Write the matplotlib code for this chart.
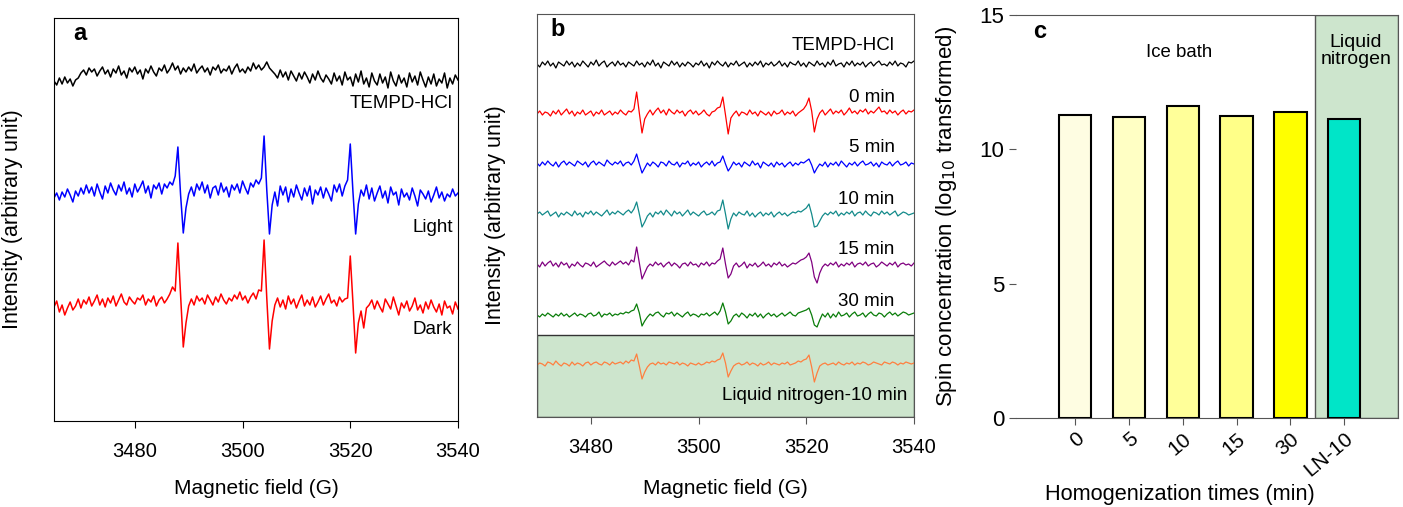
import matplotlib.pyplot as plt
import numpy as np

plt.rcParams['font.family'] = ['Liberation Sans', 'DejaVu Sans']

# ---- panel a: EPR spectra, field 3465-3540 G, 0.5 G steps (values in arb. units)
field_a = np.linspace(3465, 3540, 151)

a_tempd = [-6, -10, -3, -9, -2, -8, -4, -11, -5, -3,
           2, 5, 0, 7, 3, 6, -1, 4, 8, 1,
           5, -2, 6, 2, 9, 0, 4, -3, 7, 3,
           8, 1, 5, -4, 6, 2, 9, 3, -1, 7,
           4, 10, 2, 6, 12, 5, 9, 1, 7, 3,
           8, 4, 11, 2, 6, 9, 3, 7, 0, 8,
           5, 10, 2, 6, 4, 9, 1, 7, 11, 3,
           6, 2, 8, 4, 12, 6, 10, 5, 8, 13,
           7, 4, 1, -3, 5, -2, 3, -5, 4, -1,
           -6, 2, -4, 3, -2, -8, 1, -5, 4, -3,
           -7, 0, -4, -9, 2, -6, -1, -10, 3, -5,
           -2, -11, 1, -7, 4, -9, -3, -12, 2, -6,
           -10, 1, -8, -2, -13, 3, -6, -11, 0, -8,
           -3, -12, 2, -7, -1, -10, 3, -5, -12, -2,
           -9, 1, -11, -4, -8, 2, -13, -3, -9, 0,
           -5]

a_light = [-8, -3, -10, -2, -7, 1, -5, -12, -1, -6,
           2, -4, 5, -3, 3, -6, 6, -2, -9, 4,
           -3, 7, 0, -5, 5, -1, 8, -4, 2, -7,
           6, -2, 3, 9, -3, 4, -8, 5, 1, 7,
           -4, 6, 2, 8, 5, 14, 43, -5, -43, -18,
           -4, 3, -6, 6, 0, 8, -3, 5, -8, 2,
           4, -5, 7, -2, 3, -7, 5, 0, 6, -3,
           9, 2, -4, 7, 3, 10, 6, 12, 54, 0,
           -44, -15, -2, -16, 4, -5, 3, -12, 1, -7,
           5, -3, -10, 2, -6, 4, -14, 0, -5, 3,
           -8, 2, -4, -11, 5, -2, 6, -6, 4, 10,
           46, -2, -44, -14, 0, -6, 5, -9, 2, -11,
           -3, 4, -8, -1, -13, 3, -5, -2, -15, 1,
           -7, -3, -10, 2, -6, -16, 0, -4, -9, -1,
           -12, -5, 3, -8, -2, -11, -4, -7, 1, -6,
           -3]

a_dark = [-4, 2, -9, -2, -12, -5, 1, -7, -3, 4,
          -5, 3, -1, 6, -3, 2, 8, -2, 4, -4,
          5, 0, 7, -3, 3, 9, 1, -2, 6, 2,
          -1, 5, 3, 8, -2, 4, 1, 7, -3, 3,
          6, 0, 4, 9, 16, 12, 60, 8, -44, -20,
          -3, 4, -2, 7, 2, 5, -1, 8, 3, -2,
          6, 1, 9, 3, -1, 5, 2, 8, 4, 11,
          3, 7, 0, 6, 10, 4, 13, 12, 63, 5,
          -46, -18, -2, 5, -4, 3, -6, 7, -1, 4,
          -5, 2, 8, -3, 3, -2, 6, -4, 1, 7,
          -2, 4, 9, 0, 3, -3, 6, 1, 4, 5,
          47, 0, -50, -20, -8, -25, -5, -2, 3, -6,
          2, -4, -9, 4, -1, -6, 6, -3, -12, 0,
          -5, 2, -8, -3, 5, -7, -2, -10, 1, -6,
          3, -4, -9, -1, -12, 2, -5, -3, -11, 1,
          -6]

# ---- panel b: EPR spectra, field 3470-3540 G, 0.5 G steps
field_b = np.linspace(3470, 3540, 141)

b_tempd = [0, -3, 2, -1, 3, -2, 1, -4, 2, 0,
           -2, 3, -1, 2, -3, 1, -2, 3, 0, -3,
           2, -1, 4, -2, 1, 3, -3, 0, 2, -2,
           3, -1, 1, -3, 2, 0, -2, 3, -1, 1,
           -3, 2, -1, 4, -2, 1, -4, 2, 0, -2,
           3, -1, 2, -3, 1, -2, 2, 0, -3, 1,
           -1, 3, -2, 1, -4, 2, -1, 3, 0, -2,
           2, -3, 1, -1, 3, -2, 0, 2, -3, 1,
           -2, 2, -1, 3, -3, 1, -1, 2, -2, 0,
           3, -2, 1, -3, 2, 0, -1, 3, -2, 1,
           -3, 2, 0, -2, 3, -1, 1, -3, 2, -1,
           4, -2, 0, 1, -3, 2, -1, 3, -2, 1,
           -1, 2, -3, 0, 2, -2, 1, 3, -1, 0,
           -2, 2, -1, 3, -2, 1, 0, -3, 2, 1,
           3]

b_0min = [-1, 2, -2, 1, 0, -3, 2, -1, 3, -2,
          1, 4, -1, 2, -3, 1, -1, 3, -2, 0,
          2, -3, 1, -1, 3, -2, 0, 2, -2, 1,
          -1, 3, 0, -2, 2, 1, 4, 21, 0, -20,
          -6, -1, 3, -2, 2, 5, 0, 3, -2, 4,
          1, -1, 3, 0, 2, -3, 1, 3, -1, 2,
          -2, 0, 3, -1, -3, 1, 2, 5, 6, 16,
          -2, -21, -5, -1, 2, -3, 1, 0, -2, 3,
          -1, 1, -3, 2, 0, -2, 1, -3, 2, -1,
          0, 3, -2, 1, -1, 2, -3, 0, 2, 4,
          8, 15, 2, -19, -6, 0, 3, -2, 1, 4,
          -1, 2, 0, 3, -2, 1, 5, 0, 2, -1,
          3, 1, 4, -1, 2, 0, 3, 6, 1, 2,
          -1, 3, 0, 2, -2, 1, 3, -1, 2, 1,
          3]

b_5min = [1, -2, 2, -1, 3, 0, -2, 2, -3, 1,
          3, -1, 2, 0, -2, 3, 1, -1, 2, -3,
          1, 3, -1, 2, 0, -2, 4, 1, -1, 2,
          0, 3, -2, 1, 2, -1, 3, 10, 0, -9,
          -4, 1, -2, 2, 0, -3, 2, 1, -2, 3,
          0, -1, 2, -3, 1, 0, 3, -2, 1, -1,
          2, -3, 0, 2, -1, 3, -2, 1, 2, 8,
          0, -7, -3, 2, -1, 1, -3, 2, 0, -2,
          3, -1, 1, -4, 2, 0, -2, 1, -3, 2,
          -1, 1, -3, 0, 2, -2, 1, -1, 2, 1,
          3, 5, -1, -9, -4, 0, -2, 2, -3, 1,
          -1, 2, -2, 3, 0, -3, 1, -1, 2, -2,
          1, 3, -1, 0, 2, -2, 1, -3, 2, 0,
          -1, 2, -2, 1, 3, -1, 0, 2, -2, 1,
          0]

b_10min = [0, 2, -1, 1, 3, -2, 0, 2, -3, 1,
           -1, 2, 0, -2, 3, -1, 1, -3, 2, 0,
           3, -1, 2, 0, -2, 1, 4, -1, 2, 0,
           3, 1, -1, 2, 4, 1, 5, 12, 0, -13,
           -8, -2, 1, -3, 2, 0, 3, -1, 4, 1,
           -2, 3, 0, 2, -2, 1, 4, -1, 2, 0,
           -2, 1, 3, -1, 0, 2, -1, 3, 4, 14,
           0, -15, -5, 1, -2, 2, 0, -1, 3, -2,
           1, -3, 0, 2, -2, 1, -1, 2, -3, 0,
           2, -1, 1, -2, 0, 2, 1, 3, 2, 4,
           6, 10, 0, -13, -12, -7, -2, 1, -1, 2,
           0, 3, -2, 1, -1, 2, 0, 3, -2, 1,
           2, -1, 3, 0, -2, 2, 1, -1, 3, 0,
           2, -1, 1, 3, -2, 0, 2, 1, -1, 0,
           1]

b_15min = [1, -2, 3, -1, 2, 4, -1, 2, -2, 3,
           0, 2, -3, 1, -1, 3, 0, -2, 2, 1,
           -1, 3, -2, 0, 2, 4, 1, -1, 3, 0,
           2, 4, 1, 3, 0, 5, 3, 18, 2, -14,
           -8, -2, 1, -1, 3, 0, 2, -2, 1, 3,
           -1, 2, 0, -3, 1, 2, -1, 3, 0, 1,
           -2, 2, 0, 3, -1, 2, 1, 4, 6, 17,
           1, -13, -9, -1, 2, -2, 0, 3, -3, 1,
           -1, 2, -2, 0, 3, -1, 1, -2, 2, 0,
           3, -1, 1, -2, 0, 2, 1, 3, 5, 6,
           8, 12, 3, -12, -18, -8, -2, 1, -1, 2,
           0, 3, -2, 1, -1, 2, 0, 3, -2, 1,
           2, 0, 3, -1, 1, 2, -2, 0, 3, 1,
           -1, 2, 0, 3, -2, 1, 2, 0, 1, -1,
           2]

b_30min = [0, -2, 1, -1, 2, 0, -2, 1, -1, 2,
           -1, 1, -2, 0, 2, -1, 1, 0, -2, 1,
           2, -1, 0, 3, -2, 1, 0, 2, -1, 1,
           0, 2, 1, 3, 2, 4, 5, 11, 2, -11,
           -6, -2, 1, -1, 2, 3, 0, -2, 2, 1,
           3, -1, 2, 0, -2, 1, 3, -1, 1, 0,
           -2, 1, 0, 2, -1, 1, 3, 0, 4, 12,
           3, -9, -6, -1, 1, -2, 2, 0, -3, 1,
           -1, 2, -2, 1, -3, 0, 2, -1, 1, -2,
           0, 2, -1, 1, 3, 0, -1, 2, 3, 4,
           5, 7, 0, -10, -12, -5, 1, -2, 2, -3,
           1, -2, 3, -1, 0, 2, -2, 1, 3, -1,
           0, 2, -2, 1, 3, 0, -1, 2, 1, -2,
           1, 3, 0, 2, -1, 1, 3, 2, 0, 1,
           2]

b_ln10 = [-1, 1, 0, -2, 2, 1, -1, 3, 0, -2,
          1, 0, -2, 2, -1, 1, 0, -2, 1, 2,
          -1, 1, 2, 0, -1, 2, 1, -1, 2, 0,
          1, 2, 0, 3, 1, 4, 3, 10, -2, -15,
          -8, -3, 0, 1, -1, 2, 0, 1, -1, 2,
          1, 0, 2, -1, 1, 0, -2, 1, 0, -1,
          1, -1, 0, 2, 1, 3, 2, 4, 5, 11,
          1, -13, -7, -2, 0, 1, -1, 0, 2, -1,
          1, 0, -2, 1, -1, 0, 2, -1, 1, 0,
          -1, 1, 0, 2, -1, 0, 1, 3, 2, 4,
          5, 9, -3, -18, -9, -2, 0, 1, -1, 0,
          1, -1, 2, 0, -1, 1, 0, 2, -1, 1,
          0, 2, 1, -1, 0, 2, 1, 0, -1, 2,
          1, 0, 2, 1, -1, 1, 0, 2, 1, 0,
          1]

# ---- panel c: spin concentration
times = ['0', '5', '10', '15', '30', 'LN-10']
spin_log = [11.28, 11.21, 11.62, 11.23, 11.40, 11.12]
bar_colors = ['#FEFDE2', '#FFFFC4', '#FFFF99', '#FFFF88', '#FFFF00', '#00E5C8']

GREEN_BG = '#CDE5CD'

fig = plt.figure(figsize=(14.03, 5.07), dpi=100)

# ================= a =================
ax1 = fig.add_axes([54 / 1403, 86 / 507, 404 / 1403, 403 / 507])
a_traces = [(a_tempd, 'black', 346, 'TEMPD-HCl', 318),
            (a_light, 'blue', 231, 'Light', 193),
            (a_dark, 'red', 118, 'Dark', 91)]
for vals, col, base, lab, ylab in a_traces:
    ax1.plot(field_a, np.array(vals) + base, color=col, lw=1.1)
    ax1.text(3539, ylab, lab, ha='right', va='center', fontsize=13.5)
ax1.set_xlim(3465, 3540)
ax1.set_ylim(0, 403)
ax1.set_yticks([])
ax1.set_xticks([3480, 3500, 3520, 3540])
ax1.tick_params(axis='x', direction='out', length=5, labelsize=14.5, pad=10)
ax1.set_xlabel('Magnetic field (G)', fontsize=15)
ax1.xaxis.set_label_coords(0.5, -0.143)
ax1.set_ylabel('Intensity (arbitrary unit)', fontsize=15.5)
ax1.yaxis.set_label_coords(-0.077, 0.5)
ax1.text(3468.5, 388, 'a', fontsize=17, fontweight='bold', va='center')

# ================= b =================
ax2 = fig.add_axes([537 / 1403, 90 / 507, 377 / 1403, 403 / 507])
ax2.axhspan(0, 82, facecolor=GREEN_BG, edgecolor='#333333', lw=1.0)
b_traces = [(b_tempd, 'black', 353, 'TEMPD-HCl', 372),
            (b_0min, 'red', 304, '0 min', 319),
            (b_5min, 'blue', 253, '5 min', 270),
            (b_10min, '#138A8A', 203, '10 min', 218),
            (b_15min, '#800080', 152, '15 min', 167),
            (b_30min, '#0A7D0A', 102, '30 min', 116),
            (b_ln10, '#FF7F3F', 53, 'Liquid nitrogen-10 min', 21)]
for vals, col, base, lab, ylab in b_traces:
    ax2.plot(field_b, np.array(vals) + base, color=col, lw=0.9)
    xr = 3538.8 if lab.startswith('Liquid') else 3536.4
    ax2.text(xr, ylab, lab, ha='right', va='center', fontsize=13.5)
ax2.set_xlim(3470, 3540)
ax2.set_ylim(0, 403)
ax2.set_yticks([])
ax2.set_xticks([3480, 3500, 3520, 3540])
ax2.tick_params(axis='x', direction='out', length=5, labelsize=14.5, pad=10,
                color='#555555')
for sp in ax2.spines.values():
    sp.set_color('#555555')
ax2.set_xlabel('Magnetic field (G)', fontsize=15)
ax2.xaxis.set_label_coords(0.5, -0.153)
ax2.set_ylabel('Intensity (arbitrary unit)', fontsize=15.5)
ax2.yaxis.set_label_coords(-0.083, 0.5)
ax2.text(3472.5, 388, 'b', fontsize=17, fontweight='bold', va='center')

# ================= c =================
ax3 = fig.add_axes([1016 / 1403, 89 / 507, 382 / 1403, 403 / 507])
x = np.arange(len(times))
ax3.axvspan(4.45, 6.0, facecolor=GREEN_BG, edgecolor='#555555', lw=1.0)
ax3.bar(x, spin_log, width=0.6, color=bar_colors, edgecolor='black', lw=1.5,
        zorder=3)
ax3.set_xlim(-1.1, 6.0)
ax3.set_ylim(0, 15)
ax3.set_yticks([0, 5, 10, 15])
ax3.set_xticks(x)
ax3.set_xticklabels(times, rotation=40, ha='right', rotation_mode='anchor')
ax3.tick_params(axis='both', direction='out', length=5, labelsize=16,
                color='#555555')
ax3.tick_params(axis='x', labelsize=15, pad=3)
ax3.spines['left'].set_visible(False)
for sp in ['top', 'bottom', 'right']:
    ax3.spines[sp].set_color('#555555')
ax3.set_xlabel('Homogenization times (min)', fontsize=15.7)
ax3.xaxis.set_label_coords(0.43, -0.163)
ax3.set_ylabel('Spin concentration (log$_{10}$ transformed)', fontsize=16)
ax3.yaxis.set_label_coords(-0.15, 0.5)
ax3.text(-0.78, 14.4, 'c', fontsize=17, fontweight='bold', va='center')
ax3.text(1.94, 13.6, 'Ice bath', fontsize=13.4, ha='center', va='center')
ax3.text(5.22, 13.65, 'Liquid\nnitrogen', fontsize=14, ha='center',
         va='center', linespacing=1.0)

fig.savefig('out.png', dpi=100)
